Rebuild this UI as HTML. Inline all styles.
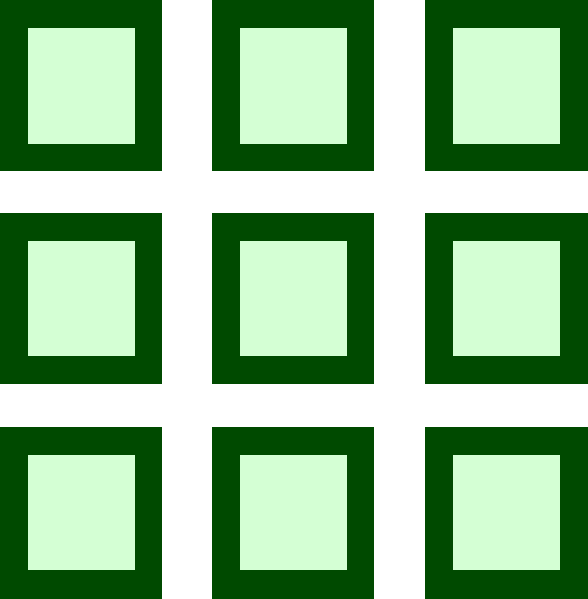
<!DOCTYPE html>
<html><head><style>
html,body{margin:0;padding:0;background:#fff;width:588px;height:599px;overflow:hidden;position:relative}
.o{position:absolute;background:#004a00}
.i{position:absolute;background:#d4ffd4}
</style></head><body>
<div class="o" style="left:0;top:0;width:162px;height:171px"><div class="i" style="left:28px;top:28px;width:107px;height:116px"></div></div>
<div class="o" style="left:212px;top:0;width:162px;height:171px"><div class="i" style="left:28px;top:28px;width:107px;height:116px"></div></div>
<div class="o" style="left:425px;top:0;width:163px;height:171px"><div class="i" style="left:28px;top:28px;width:107px;height:116px"></div></div>
<div class="o" style="left:0;top:213px;width:162px;height:171px"><div class="i" style="left:28px;top:28px;width:107px;height:115px"></div></div>
<div class="o" style="left:212px;top:213px;width:162px;height:171px"><div class="i" style="left:28px;top:28px;width:107px;height:115px"></div></div>
<div class="o" style="left:425px;top:213px;width:163px;height:171px"><div class="i" style="left:28px;top:28px;width:107px;height:115px"></div></div>
<div class="o" style="left:0;top:427px;width:162px;height:172px"><div class="i" style="left:28px;top:28px;width:107px;height:115px"></div></div>
<div class="o" style="left:212px;top:427px;width:162px;height:172px"><div class="i" style="left:28px;top:28px;width:107px;height:115px"></div></div>
<div class="o" style="left:425px;top:427px;width:163px;height:172px"><div class="i" style="left:28px;top:28px;width:107px;height:115px"></div></div>
</body></html>
